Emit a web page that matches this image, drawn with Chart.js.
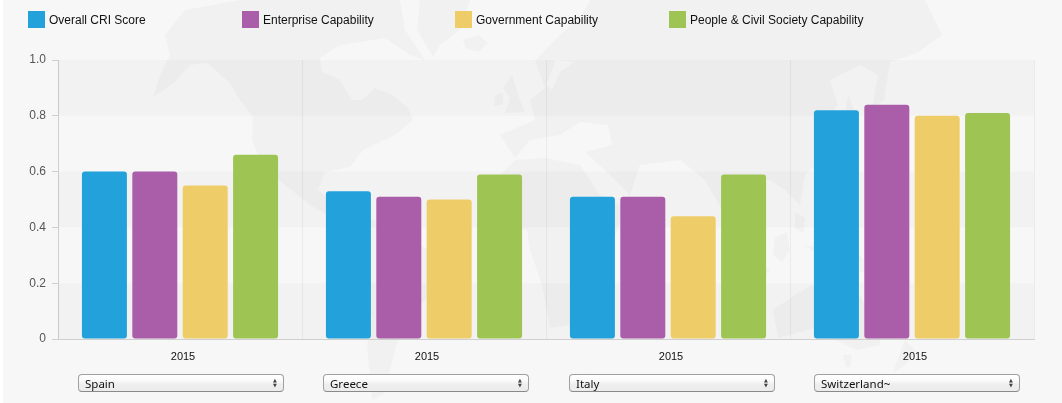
<!DOCTYPE html>
<html>
<head>
<meta charset="utf-8">
<script src="https://cdn.jsdelivr.net/npm/chart.js@4/dist/chart.umd.min.js"></script>
<style>
  html, body { margin: 0; padding: 0; background: #fff; }
  #wrap { position: absolute; left: 3px; top: 0; width: 1059px; height: 403px; background: #f7f7f7; overflow: hidden; }
  #map { position: absolute; left: -3px; top: 0; filter: blur(0.7px); }
  #chart { position: absolute; left: -3px; top: 0; }
  .legend-item { position: absolute; top: 11px; height: 17px; font: 12px "Liberation Sans", Arial, sans-serif; line-height: 18px; color: #111; white-space: nowrap; }
  .legend-item i { display: inline-block; width: 17px; height: 17px; margin-right: 4px; vertical-align: top; }
  select {
    position: absolute; top: 374px; width: 206px; height: 18px; padding: 0 0 0 6px;
    font: 11.5px "Noto Sans", sans-serif; color: #111;
    -webkit-appearance: none; appearance: none; outline: 0;
    border: 1px solid #a0a0a0; border-bottom-color: #8a8a8a; border-radius: 4px;
    background: linear-gradient(#ffffff, #fafafa 35%, #eeeeee 60%, #ececec);
  }
  .arrows { position: absolute; top: 378px; width: 0; height: 0; color: #444; font: 5px/5px "DejaVu Sans"; pointer-events: none; }
</style>
</head>
<body>
<div id="wrap">
  <svg id="map" width="1062" height="403" viewBox="0 0 1062 403">
    <g fill="#f1f1f1">
      <!-- north america -->
      <path d="M153 97 L175 82 L190 65 L207 63 L230 83 L240 100 L253 117 L252 140 L263 167 L285 185 L310 205 L345 225 L335 205 L318 190 L325 172 L350 167 L363 150 L395 135 L413 120 L408 108 L392 95 L375 88 L362 100 L352 100 L340 80 L322 72 L320 58 L340 45 L385 38 L410 55 L425 60 L405 30 L400 0 L240 0 L185 10 L165 35 L170 55 L160 75Z"/>
      <!-- greenland, iceland, britain -->
      <path d="M420 0 L470 0 L462 28 L440 45 L433 57 L417 30Z"/>
      <path d="M463 40 L478 35 L488 43 L478 52 L466 48Z"/>
      <path d="M512 75 L520 100 L525 112 L505 113 L510 98 L503 88Z"/>
      <path d="M495 95 L503 93 L503 104 L494 106Z"/>
      <!-- south america -->
      <path d="M355 218 L385 222 L405 238 L440 255 L430 295 L405 320 L395 350 L383 395 L372 400 L367 345 L372 318 L350 262Z"/>
      <!-- africa -->
      <path d="M495 180 L515 160 L545 158 L580 165 L600 195 L625 208 L612 245 L600 285 L570 325 L550 328 L542 285 L530 250 L527 230 L505 225Z"/>
      <!-- europe and asia -->
      <path d="M500 135 L535 120 L530 100 L545 88 L535 60 L560 35 L580 18 L590 0 L925 0 L942 35 L917 53 L890 62 L884 100 L872 108 L878 75 L860 65 L830 80 L838 105 L822 125 L830 150 L805 175 L800 205 L785 190 L770 180 L745 178 L725 215 L705 180 L680 160 L640 165 L630 195 L610 175 L585 152 L612 145 L608 125 L580 122 L560 135 L530 140 L515 158Z"/>
      <path d="M848 95 L856 115 L845 135 L835 140 L845 115Z"/>
      <!-- islands -->
      <path d="M795 212 L805 218 L803 233 L795 228Z"/>
      <path d="M775 238 L787 232 L790 250 L782 262 L773 255Z"/>
      <path d="M748 255 L770 270 L765 275 L748 265Z"/>
      <path d="M805 245 L860 255 L875 275 L830 265Z"/>
      <!-- australia -->
      <path d="M773 310 L795 295 L812 285 L835 290 L850 278 L862 300 L880 325 L880 345 L857 350 L835 340 L815 328 L778 338Z"/>
      <path d="M843 355 L852 355 L850 367 L846 367Z"/>
      <path d="M905 340 L917 352 L905 365 L893 373 L898 358Z"/>
    </g>
    <g fill="#f7f7f7">
      <path d="M526 48 L545 30 L552 35 L537 60Z"/>
      <path d="M556 60 L575 62 L560 72 L552 90 L546 85Z"/>
    </g>
  </svg>
  <canvas id="chart" width="1062" height="403"></canvas>
</div>
<script>
const seriesNames = ['Overall CRI Score', 'Enterprise Capability', 'Government Capability', 'People & Civil Society Capability'];
const seriesColors = ['#23a1db', '#aa5da8', '#eecd69', '#9ec554'];
const countries = ['Spain', 'Greece', 'Italy', 'Switzerland~'];
const years = ['2015', '2015', '2015', '2015'];
const overall = [0.60, 0.53, 0.51, 0.82];
const enterprise = [0.60, 0.51, 0.51, 0.84];
const government = [0.55, 0.50, 0.44, 0.80];
const people = [0.66, 0.59, 0.59, 0.81];
const seriesValues = [overall, enterprise, government, people];

const legendX = [28, 242, 455, 669];
const selectX = [78, 323, 569, 814];

let wrap = document.querySelector('#wrap');

seriesNames.forEach((name, i) => {
  let item = document.createElement('div');
  item.className = 'legend-item';
  item.style.left = legendX[i] - 3 + 'px';
  let box = document.createElement('i');
  box.style.background = seriesColors[i];
  item.append(box, name);
  wrap.append(item);
});

countries.forEach((country, i) => {
  let select = document.createElement('select');
  select.style.left = selectX[i] - 3 + 'px';
  countries.forEach((c) => select.add(new Option(c, c, c === country, c === country)));
  wrap.append(select);
  let arrows = document.createElement('div');
  arrows.className = 'arrows';
  arrows.style.left = selectX[i] + 192 + 'px';
  arrows.innerHTML = '&#9650;<br>&#9660;';
  wrap.append(arrows);
});

// alternating grey bands behind the bars
const bandsPlugin = {
  id: 'bands',
  beforeDatasetsDraw(chart) {
    const { ctx, chartArea, scales } = chart;
    const ticks = scales.y.ticks.map((t) => t.value).sort((a, b) => b - a);
    ctx.save();
    ctx.fillStyle = 'rgba(0, 0, 0, 0.02)';
    for (let i = 0; i < ticks.length - 1; i += 2) {
      const top = scales.y.getPixelForValue(ticks[i]);
      const bottom = scales.y.getPixelForValue(ticks[i + 1]);
      ctx.fillRect(chartArea.left, top, chartArea.right - chartArea.left, bottom - top);
    }
    ctx.restore();
  },
};

new Chart(document.querySelector('#chart'), {
  type: 'bar',
  plugins: [bandsPlugin],
  data: {
    labels: years,
    datasets: seriesNames.map((name, i) => ({
      label: name,
      data: seriesValues[i],
      backgroundColor: seriesColors[i],
      borderRadius: 3,
      borderSkipped: false,
      categoryPercentage: 0.826,
      barPercentage: 0.893,
    })),
  },
  options: {
    responsive: false,
    animation: false,
    layout: { padding: { top: 60, right: 28, left: 0, bottom: 0 } },
    plugins: { legend: { display: false }, tooltip: { enabled: false } },
    scales: {
      x: {
        afterFit: (scale) => { scale.height = 64; },
        border: { color: '#cfcfcf' },
        grid: { color: 'rgba(0, 0, 0, 0.05)', tickLength: 0 },
        ticks: { color: '#111', padding: 11, labelOffset: 3, font: { family: '"Liberation Sans", Arial', size: 11 }, maxRotation: 0 },
      },
      y: {
        min: 0,
        max: 1,
        afterFit: (scale) => { scale.width = 58; },
        border: { color: '#cfcfcf' },
        grid: { drawOnChartArea: false, color: '#cfcfcf', tickLength: 6 },
        ticks: {
          stepSize: 0.2,
          color: '#555',
          padding: 6,
          font: { family: '"Liberation Sans", Arial', size: 12 },
          callback: (v) => (v === 0 ? '0' : v.toFixed(1)),
        },
      },
    },
  },
});
</script>
</body>
</html>
